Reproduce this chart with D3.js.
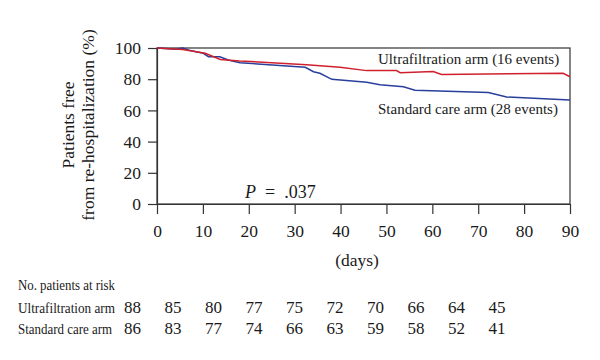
<!DOCTYPE html>
<html>
<head>
<meta charset="utf-8">
<script src="https://cdn.jsdelivr.net/npm/d3@7"></script>
<style>
  body { margin: 0; background: #fff; }
  text { font-family: "Liberation Serif", "DejaVu Serif", serif; fill: #1a1a1a; }
</style>
</head>
<body>
<svg id="chart"></svg>
<script>
// survival curves (day, % free)
const ufDays = [0, 5.6, 10.5, 13.8, 18, 32.6, 39.9, 45.7, 52.2, 53, 60.2, 62, 88.5, 90];
const ufVals = [100, 99, 96.6, 92.7, 91.7, 89.3, 87.6, 85.5, 85.5, 84.2, 84.9, 83, 83.8, 81.6];
const scDays = [0, 4, 5.6, 7, 10.1, 11.2, 13.7, 15.5, 18.1, 32.3, 34.1, 35.5, 38.1, 45.7, 48.6, 53.7, 56.2, 72.2, 76.2, 90];
const scVals = [100, 99.2, 100, 98.6, 96.6, 94.4, 94.4, 92.3, 90.6, 87.6, 84.8, 83.8, 79.9, 78, 76.5, 75.2, 72.9, 71.4, 68.6, 66.7];

const xTicks = [0, 10, 20, 30, 40, 50, 60, 70, 80, 90];
const yTicks = [0, 20, 40, 60, 80, 100];

const riskUF = [88, 85, 80, 77, 75, 72, 70, 66, 64, 45];
const riskSC = [86, 83, 77, 74, 66, 63, 59, 58, 52, 41];

const width = 600, height = 360;
const margin = {top: 48, right: 30, bottom: 156, left: 157};
const innerW = width - margin.left - margin.right;
const innerH = height - margin.top - margin.bottom;

const red = '#d0202e', blue = '#2a3f9c';

const svg = d3.select('#chart').attr('width', width).attr('height', height);
const g = svg.append('g').attr('transform', `translate(${margin.left},${margin.top})`);

const x = d3.scaleLinear().domain([0, 90]).range([0, innerW]);
const y = d3.scaleLinear().domain([0, 100]).range([innerH, 0]);

// frame
g.append('rect')
  .attr('width', innerW).attr('height', innerH)
  .attr('fill', 'none').attr('stroke', '#333').attr('stroke-width', 1.2);

const xAxis = g.append('g')
  .attr('transform', `translate(0,${innerH})`)
  .call(d3.axisBottom(x).tickValues(xTicks).tickSize(10).tickPadding(11).tickSizeOuter(0));
const yAxis = g.append('g')
  .call(d3.axisLeft(y).tickValues(yTicks).tickSize(9).tickPadding(7).tickSizeOuter(0));

[xAxis, yAxis].forEach(a => {
  a.select('.domain').attr('stroke', '#333').attr('stroke-width', 1.2);
  a.selectAll('.tick line').attr('stroke', '#333').attr('stroke-width', 1.2);
  a.selectAll('.tick text')
    .style('font-family', '"Liberation Serif", serif')
    .style('font-size', '17.5px').attr('fill', '#1a1a1a');
});

const line = d3.line().x(d => x(d[0])).y(d => y(d[1]));
const ufData = ufDays.map((d, i) => [d, ufVals[i]]);
const scData = scDays.map((d, i) => [d, scVals[i]]);

g.append('path').datum(scData).attr('d', line)
  .attr('fill', 'none').attr('stroke', blue).attr('stroke-width', 1.5);
g.append('path').datum(ufData).attr('d', line)
  .attr('fill', 'none').attr('stroke', red).attr('stroke-width', 1.5);

// annotations
svg.append('text').attr('x', 378).attr('y', 64).style('font-size', '15px')
  .text('Ultrafiltration arm (16 events)');
svg.append('text').attr('x', 378).attr('y', 114).style('font-size', '15px')
  .text('Standard care arm (28 events)');

const p = svg.append('text').attr('x', 245).attr('y', 198).style('font-size', '18px')
  .attr('xml:space', 'preserve');
p.append('tspan').style('font-style', 'italic').text('P');
p.append('tspan').text('  =  .037');

// axis titles
svg.append('text').attr('x', 357).attr('y', 266).attr('text-anchor', 'middle')
  .style('font-size', '17.5px').text('(days)');

const yt = svg.append('text')
  .attr('transform', 'translate(74,125) rotate(-90)')
  .attr('text-anchor', 'middle').style('font-size', '17.5px');
yt.append('tspan').attr('x', 0).attr('dy', 0).text('Patients free');
yt.append('tspan').attr('x', 0).attr('dy', 20).text('from re-hospitalization (%)');

// risk table
svg.append('text').attr('x', 18).attr('y', 290).style('font-size', '14.5px')
  .attr('textLength', 97).attr('lengthAdjust', 'spacingAndGlyphs')
  .text('No. patients at risk');

const riskX = d3.scalePoint().domain(d3.range(riskUF.length)).range([132.5, 497]);
const rows = [
  {label: 'Ultrafiltration arm', vals: riskUF, y: 313, w: 97},
  {label: 'Standard care arm', vals: riskSC, y: 334, w: 94}
];
rows.forEach(r => {
  svg.append('text').attr('x', 18).attr('y', r.y).style('font-size', '14.5px')
    .attr('textLength', r.w).attr('lengthAdjust', 'spacingAndGlyphs')
    .text(r.label);
  svg.append('g').selectAll('text').data(r.vals).join('text')
    .attr('x', (d, i) => riskX(i)).attr('y', r.y)
    .attr('text-anchor', 'middle').style('font-size', '17px')
    .text(d => d);
});
</script>
</body>
</html>
